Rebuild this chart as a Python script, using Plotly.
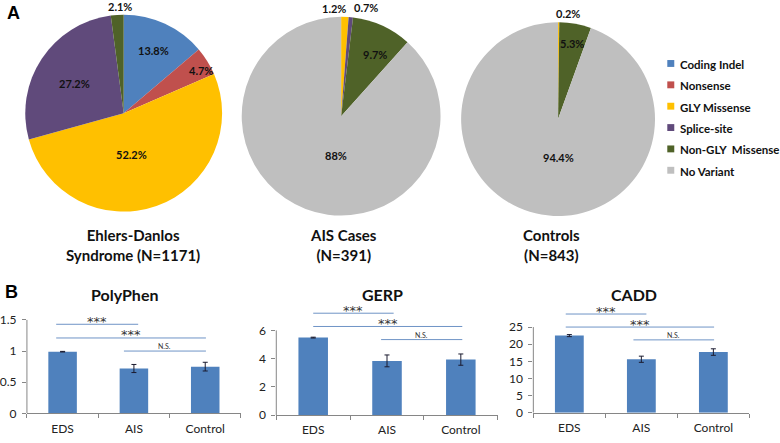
import math
import plotly.graph_objects as go

W, H = 780, 443

# ---------------- data ----------------
pie_categories = ["Coding Indel", "Nonsense", "GLY Missense", "Splice-site",
                  "Non-GLY\u00a0 Missense", "No Variant"]
pie_colors = ["#4f81bd", "#c0504d", "#ffc000", "#604a7b", "#4f6228", "#bfbfbf"]
eds_pct = [13.8, 4.7, 52.2, 27.2, 2.1, 0]
ais_pct = [0, 0, 1.2, 0.7, 9.7, 88]
ctrl_pct = [0, 0, 0.2, 0, 5.3, 94.4]
pie_titles = ["Ehlers-Danlos<br>Syndrome (N=1171)", "AIS Cases<br>(N=391)", "Controls<br>(N=843)"]

bar_categories = ["EDS", "AIS", "Control"]
bar_titles = ["PolyPhen", "GERP", "CADD"]
polyphen_mean = [0.99, 0.72, 0.75]
polyphen_err = [0.005, 0.065, 0.07]
gerp_mean = [5.49, 3.84, 3.93]
gerp_err = [0.03, 0.42, 0.40]
cadd_mean = [22.5, 15.6, 17.7]
cadd_err = [0.3, 0.9, 0.95]
polyphen_ticks = [0, 0.5, 1, 1.5]
gerp_ticks = [0, 2, 4, 6]
cadd_ticks = [0, 5, 10, 15, 20, 25]

sig_labels = ["***", "***", "N.S."]
polyphen_sig_x0 = [-0.09, -0.09, 0.86]
polyphen_sig_x1 = [1.06, 2.01, 2.01]
polyphen_sig_y = [1.43, 1.21, 1.0]
gerp_sig_x0 = [0.0, 0.0, 0.92]
gerp_sig_x1 = [1.09, 2.02, 2.02]
gerp_sig_y = [7.22, 6.28, 5.35]
cadd_sig_x0 = [-0.05, -0.05, 0.89]
cadd_sig_x1 = [1.07, 2.01, 2.01]
cadd_sig_y = [28.8, 25.0, 21.25]

# ---------------- layout helpers ----------------
def PX(x):
    return x / W

def PY(y):
    return 1 - y / H

FONT = "Lato"
fig = go.Figure()
annotations = []
shapes = []

def note(x, y, text, size, family=FONT, xanchor="center", yanchor="middle", **kw):
    d = dict(x=x, y=y, text=text, showarrow=False, xanchor=xanchor, yanchor=yanchor,
             font=dict(family=family, size=size, color=kw.pop("color", "#111")))
    d.setdefault("xref", "paper")
    d.setdefault("yref", "paper")
    d.update(kw)
    annotations.append(d)

# ---------------- pies ----------------
pie_geo = [(122, 115, 100, 131), (340, 118, 101, 342.5), (557.5, 121, 98.5, 551)]
pie_values = [eds_pct, ais_pct, ctrl_pct]
# label placement: (slice index, radial fraction, angular nudge in degrees)
pie_label_place = [
    [(0, 0.70, 0), (1, 0.89, 3), (2, 0.43, 9), (3, 0.58, -2), (4, 1.08, 2)],
    [(2, 1.09, -6), (3, 1.12, 7), (4, 0.71, 4), (5, 0.40, -13)],
    [(2, 1.09, 5), (4, 0.79, 0), (5, 0.40, -10)],
]

for vals, (cx, cy, r, tx), title, places in zip(pie_values, pie_geo, pie_titles, pie_label_place):
    fig.add_trace(go.Pie(
        values=vals, labels=pie_categories, sort=False, direction="clockwise", rotation=0,
        marker=dict(colors=pie_colors, line=dict(width=0)),
        textinfo="none", showlegend=False,
        domain=dict(x=[PX(cx - r), PX(cx + r)], y=[PY(cy + r), PY(cy - r)]),
    ))
    total = sum(vals)
    cum = []
    acc = 0
    for v in vals:
        cum.append(acc + v / 2)
        acc += v
    for idx, f, nudge in places:
        th = math.radians(cum[idx] / total * 360 + nudge)
        lx = cx + f * r * math.sin(th)
        ly = cy - f * r * math.cos(th)
        note(PX(lx), PY(ly), f"<b>{vals[idx]:g}%</b>", 11)
    note(PX(tx), PY(249), f"<b>{title}</b>", 15)

# legend (manual)
for i, (cat, col) in enumerate(zip(pie_categories, pie_colors)):
    yc = 64.5 + i * 21.7
    shapes.append(dict(type="rect", xref="paper", yref="paper",
                       x0=PX(667), x1=PX(674), y0=PY(yc + 3.5), y1=PY(yc - 3.5),
                       fillcolor=col, line=dict(width=0)))
    note(PX(678), PY(yc + 1), f"<b>{cat}</b>", 11.5, xanchor="left")

# ---------------- bars ----------------
bar_means = [polyphen_mean, gerp_mean, cadd_mean]
bar_errs = [polyphen_err, gerp_err, cadd_err]
bar_ticks = [polyphen_ticks, gerp_ticks, cadd_ticks]
sig_x0 = [polyphen_sig_x0, gerp_sig_x0, cadd_sig_x0]
sig_x1 = [polyphen_sig_x1, gerp_sig_x1, cadd_sig_x1]
sig_y = [polyphen_sig_y, gerp_sig_y, cadd_sig_y]
# (left px, right px, bottom px, pixels per unit, title x px)
bar_geo = [(25, 239.5, 420, 63.3, 122.5), (275, 497, 421.7, 14.33, 381.7),
           (532.7, 749.3, 419.3, 3.48, 633.5)]
TOP = 312

layout_axes = {}
for i in range(3):
    left, right, bottom, ppu, ttx = bar_geo[i]
    sfx = "" if i == 0 else str(i + 1)
    fig.add_trace(go.Bar(
        x=bar_categories, y=bar_means[i], width=0.4,
        marker=dict(color="#4f81bd", line=dict(width=0)),
        error_y=dict(type="data", array=bar_errs[i], color="#1b1b2f", thickness=1, width=2.5),
        xaxis="x" + sfx, yaxis="y" + sfx, showlegend=False,
    ))
    layout_axes["xaxis" + sfx] = dict(
        domain=[PX(left), PX(right)], anchor="y" + sfx, type="category", range=[-0.5, 2.5],
        showline=True, linecolor="#868686", linewidth=1, ticks="outside", tickson="boundaries",
        ticklen=4, tickcolor="#868686", showgrid=False, fixedrange=True, ticklabelstandoff=4,
        tickfont=dict(family=FONT, size=12, color="#222"),
    )
    layout_axes["yaxis" + sfx] = dict(
        domain=[PY(bottom), PY(TOP)], anchor="x" + sfx, range=[0, (bottom - TOP) / ppu],
        tickvals=bar_ticks[i], showline=False, ticks="outside", ticklen=4, tickcolor="#868686",
        showgrid=False, zeroline=False, fixedrange=True, ticklabelstandoff=3,
        tickfont=dict(family=FONT, size=12, color="#222"),
    )
    shapes.append(dict(type="line", xref="x" + sfx + " domain", yref="y" + sfx,
                       x0=0, x1=0, y0=0, y1=bar_ticks[i][-1],
                       line=dict(color="#868686", width=1)))
    for x0, x1, yv, lab in zip(sig_x0[i], sig_x1[i], sig_y[i], sig_labels):
        shapes.append(dict(type="line", xref="x" + sfx, yref="y" + sfx,
                           x0=x0, x1=x1, y0=yv, y1=yv, line=dict(color="#6f94c6", width=1)))
        star = lab == "***"
        note((x0 + x1) / 2, yv, lab, 13 if star else 7, family="DejaVu Sans" if star else FONT,
             xref="x" + sfx, yref="y" + sfx, yshift=3 if star else 5, color="#333")
    note(PX(ttx), PY(299.5), f"<b>{bar_titles[i]}</b>", 16)

# panel letters
note(PX(12), PY(13), "<b>A</b>", 18, family="Liberation Sans", color="#000")
note(PX(10), PY(297), "<b>B</b>", 18, family="Liberation Sans", color="#000")

fig.update_layout(
    width=W, height=H, margin=dict(l=0, r=0, t=0, b=0),
    paper_bgcolor="white", plot_bgcolor="white",
    font=dict(family=FONT, color="#222"),
    annotations=annotations, shapes=shapes,
    **layout_axes,
)

fig.write_html("out.html", config={"displayModeBar": False},
               post_script="document.body.style.margin='0';document.body.style.overflow='hidden';")
